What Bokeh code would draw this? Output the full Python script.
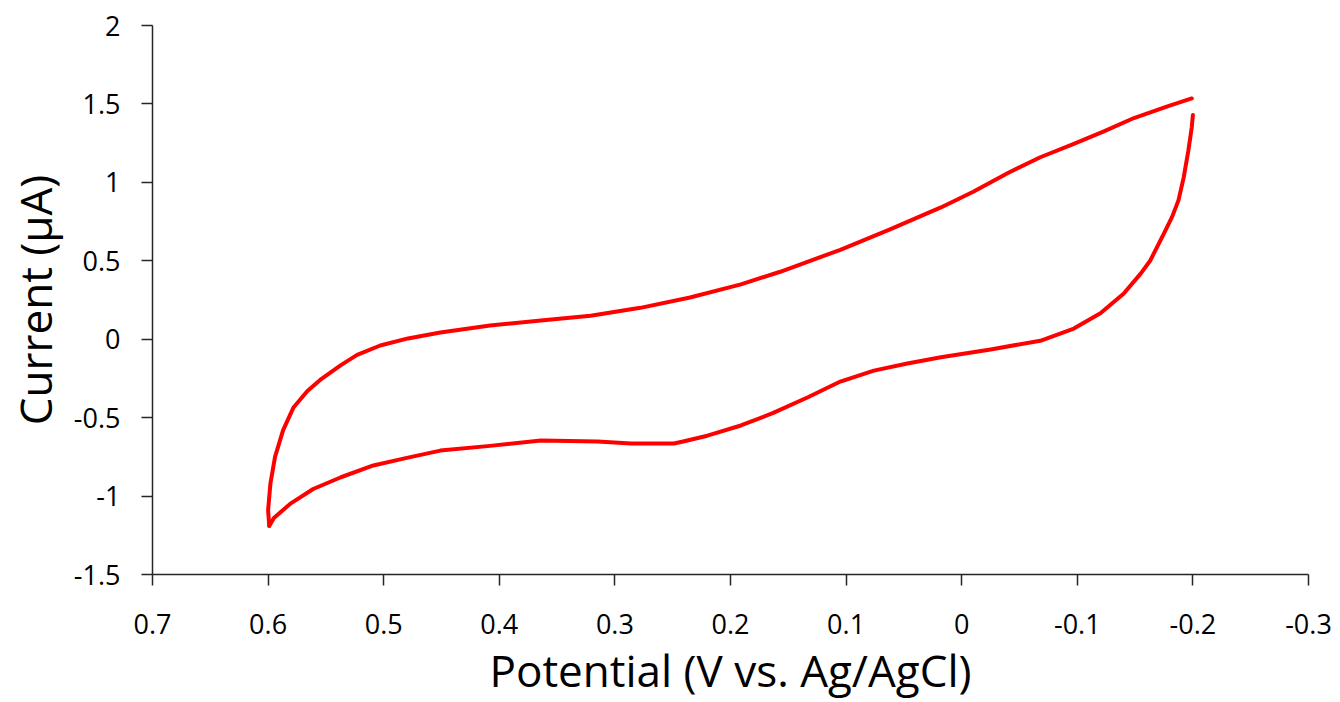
from bokeh.plotting import figure
from bokeh.models import Range1d, FixedTicker, CustomJSTickFormatter
from bokeh.embed import file_html
from bokeh.resources import INLINE

# Sweep 1: from -0.2 V towards 0.6 V (lower branch)
sweep1_potential = [-0.200, -0.199, -0.196, -0.192, -0.1875, -0.182, -0.175, -0.163, -0.155,
                    -0.140, -0.120, -0.097, -0.068, -0.025, 0.018, 0.047, 0.076, 0.105,
                    0.133, 0.163, 0.191, 0.220, 0.241, 0.249, 0.286, 0.315, 0.364, 0.408,
                    0.451, 0.479, 0.509, 0.537, 0.561, 0.581, 0.595, 0.599]
sweep1_current = [1.43, 1.35, 1.20, 1.03, 0.885, 0.78, 0.675, 0.50, 0.42,
                  0.29, 0.165, 0.068, -0.01, -0.065, -0.115, -0.155, -0.20, -0.27,
                  -0.37, -0.47, -0.55, -0.615, -0.652, -0.665, -0.665, -0.652, -0.645, -0.68,
                  -0.71, -0.755, -0.805, -0.88, -0.955, -1.05, -1.14, -1.19]

# Sweep 2: from 0.6 V back to -0.2 V (upper branch)
sweep2_potential = [0.599, 0.600, 0.598, 0.594, 0.587, 0.578, 0.566, 0.555, 0.537, 0.523,
                    0.503, 0.479, 0.451, 0.408, 0.364, 0.321, 0.278, 0.235, 0.191, 0.157,
                    0.105, 0.062, 0.018, -0.010, -0.040, -0.068, -0.097, -0.123, -0.149,
                    -0.178, -0.199]
sweep2_current = [-1.19, -1.09, -0.92, -0.75, -0.58, -0.435, -0.33, -0.26, -0.165, -0.10,
                  -0.04, 0.005, 0.043, 0.087, 0.12, 0.15, 0.20, 0.266, 0.35, 0.43,
                  0.57, 0.70, 0.84, 0.94, 1.06, 1.16, 1.245, 1.325, 1.41,
                  1.485, 1.535]

x_ticks = [0.7, 0.6, 0.5, 0.4, 0.3, 0.2, 0.1, 0.0, -0.1, -0.2, -0.3]
y_ticks = [-1.5, -1.0, -0.5, 0.0, 0.5, 1.0, 1.5, 2.0]

FONT = "Open Sans"

p = figure(width=1340, height=702, output_backend="svg", toolbar_location=None,
           x_range=Range1d(0.7, -0.3), y_range=Range1d(-1.5, 2.0),
           min_border_left=152, min_border_right=32, min_border_top=25, min_border_bottom=128)
p.outline_line_color = None
p.xgrid.visible = False
p.ygrid.visible = False
p.background_fill_color = "white"
p.border_fill_color = "white"

fmt = CustomJSTickFormatter(code="""
if (Math.abs(tick) < 1e-9) return "0";
var s = tick.toFixed(1);
if (s.endsWith(".0")) s = s.slice(0, -2);
return s;
""")

for ax, ticks in ((p.xaxis[0], x_ticks), (p.yaxis[0], y_ticks)):
    ax.ticker = FixedTicker(ticks=ticks)
    ax.formatter = fmt
    ax.minor_tick_line_color = None
    ax.major_tick_in = 0
    ax.major_tick_out = 11
    ax.axis_line_color = "#262626"
    ax.major_tick_line_color = "#262626"
    ax.axis_line_width = 1.5
    ax.major_tick_line_width = 1.5
    ax.major_label_text_font = FONT
    ax.major_label_text_font_size = "27px"
    ax.major_label_text_color = "black"
    ax.axis_label_text_font = FONT
    ax.axis_label_text_font_size = "44px"
    ax.axis_label_text_font_style = "normal"
    ax.axis_label_text_color = "black"

p.xaxis.axis_label = "Potential (V vs. Ag/AgCl)"
p.yaxis.axis_label = "Current (μA)"
p.xaxis.major_label_standoff = 28
p.yaxis.major_label_standoff = 21
p.xaxis.axis_label_standoff = 3
p.yaxis.axis_label_standoff = 6

p.line(sweep1_potential, sweep1_current, line_color="#FF0000", line_width=4,
       line_join="round", line_cap="round")
p.line(sweep2_potential, sweep2_current, line_color="#FF0000", line_width=4,
       line_join="round", line_cap="round")

open("out.html", "w").write(file_html(p, INLINE))
